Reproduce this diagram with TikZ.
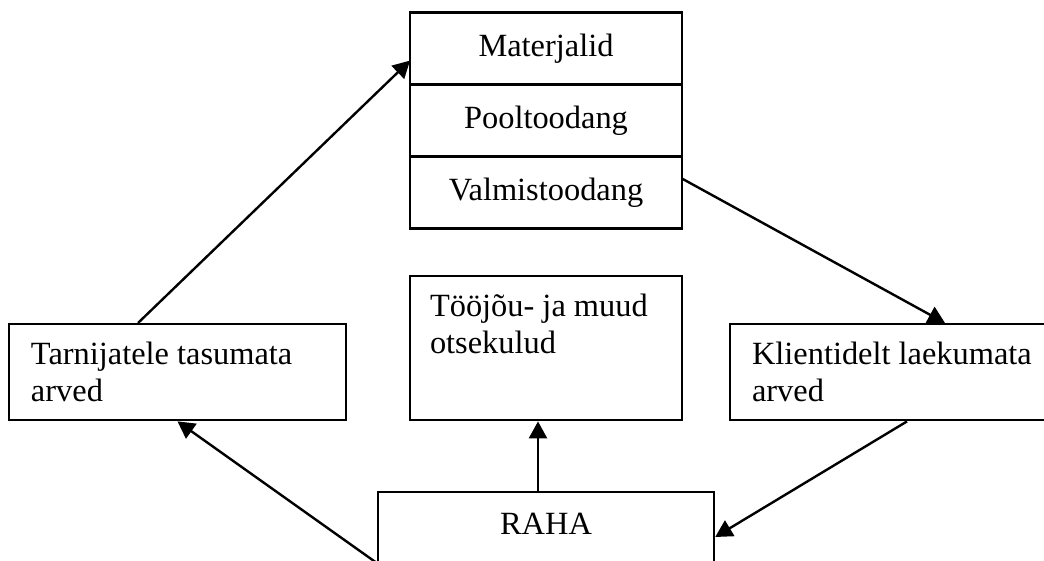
\documentclass[tikz,border=0pt]{standalone}
\usepackage{fontspec}
\setmainfont{Liberation Serif}
\usepackage{tikz}
\usetikzlibrary{arrows.meta,positioning,calc}
\tikzset{
  cell/.style={draw, line width=1.2pt, outer sep=0pt, minimum width=136pt, minimum height=36pt, inner sep=0pt, align=center},
  lbox/.style={draw, line width=1.2pt, inner xsep=11pt, inner ysep=6pt, align=flush left, text height=14pt, text depth=22pt},
  arr/.style={-{Triangle[length=8.5pt,width=9pt]}, line width=1.2pt},
}

\begin{document}
\begin{tikzpicture}[x=0.5pt,y=0.5pt,font=\fontsize{16.2}{18.5}\selectfont]
  \clip (0,0) rectangle (1044,561);
  \node[cell, anchor=north] (mat) at (546,548.4) {Materjalid};
  \node[cell, below=0pt of mat] (pool) {Pooltoodang};
  \node[cell, below=0pt of pool] (valm) {Valmistoodang};
  \node[lbox, anchor=north, text width=146.5pt] (tarn) at (177.5,238) {Tarnijatele tasumata\\arved};
  \node[lbox, anchor=north, text width=143pt] (klient) at (895,238) {Klientidelt laekumata\\arved};
  \node[lbox, anchor=north, inner xsep=10pt, text width=116pt, text depth=46pt] (too) at (546,286) {Tööjõu- ja muud\\otsekulud};
  \node[draw, line width=1.2pt, anchor=north, minimum width=168pt, inner ysep=6pt, text height=15pt, text depth=40pt] (raha) at (546,70) {RAHA};
  \coordinate (rahaLow) at ([yshift=-36pt]raha.north west);
  \draw[arr] ([xshift=-19.75pt]tarn.north) -- ([yshift=-6pt]mat.west);
  \draw[arr] ([yshift=7pt]valm.east) -- ([xshift=25pt]klient.north);
  \draw[arr] ([xshift=6pt]klient.south) -- ([yshift=-23pt]raha.north east);
  \draw[arr] ([xshift=-4pt]raha.north) -- ([xshift=-4pt]too.south);
  \draw[arr] (rahaLow) -- (tarn.south);
\end{tikzpicture}
\end{document}
